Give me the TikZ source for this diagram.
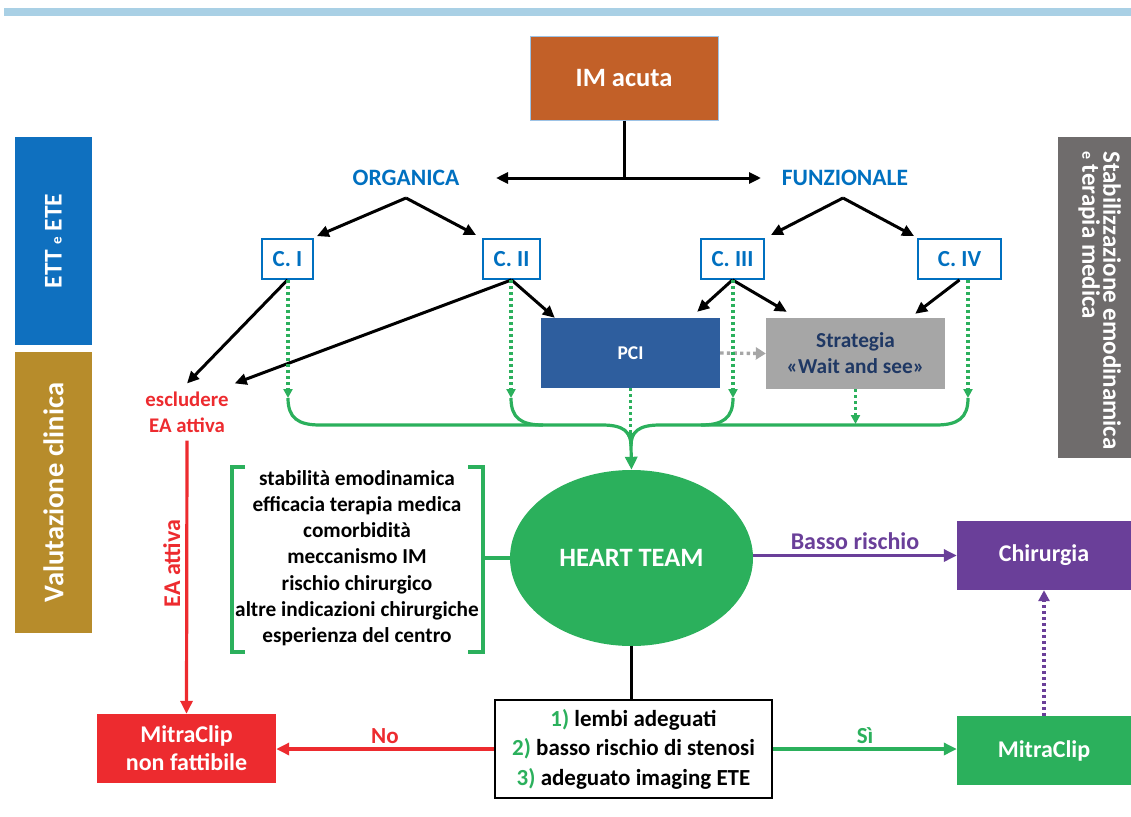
\documentclass[tikz,border=0pt]{standalone}
\usepackage{fontspec}
\setmainfont{Carlito}
\usetikzlibrary{arrows.meta,shapes.geometric}
\definecolor{topbar}{HTML}{A9D0E5}
\definecolor{imc}{HTML}{C26028}
\definecolor{lb}{HTML}{9DC3E6}
\definecolor{bl}{HTML}{0070C0}
\definecolor{ettc}{HTML}{0F70BF}
\definecolor{valc}{HTML}{B78C2B}
\definecolor{stabc}{HTML}{6F6C6C}
\definecolor{pcic}{HTML}{2E5E9E}
\definecolor{strc}{HTML}{A6A6A6}
\definecolor{navy}{HTML}{1F3864}
\definecolor{gr}{HTML}{2BB05C}
\definecolor{rd}{HTML}{ED2B2F}
\definecolor{pu}{HTML}{6A3F99}
\newcommand\fsz[2]{\fontsize{#1}{#2}\selectfont}
\begin{document}
\begin{tikzpicture}[x=1pt,y=-1pt,font=\bfseries,
  box/.style={rectangle,inner sep=0pt,align=center},
  cbox/.style={box,draw=bl,line width=1.8pt,fill=white,text=bl,minimum height=40pt,font=\bfseries\fsz{23}{26}},
  bluetxt/.style={text=bl,font=\bfseries\fsz{23.5}{26},inner sep=0pt},
  blk/.style={draw=black,line width=3pt},
  blkar/.style={blk,-{Triangle[length=12pt,width=11pt]}},
  gdot/.style={draw=gr,line width=3.2pt,dash pattern=on 3.2pt off 2.8pt,-{Triangle[length=9pt,width=9pt]}},
  gline/.style={draw=gr,line width=3.2pt},
  redar/.style={draw=rd,line width=3.2pt,-{Triangle[length=13pt,width=12pt]}},
  grar/.style={draw=gr,line width=3.2pt,-{Triangle[length=13pt,width=12pt]}},
  puar/.style={draw=pu,line width=3.2pt,-{Triangle[length=13pt,width=12pt]}},
  pudot/.style={draw=pu,line width=3.2pt,dash pattern=on 3.2pt off 2.8pt,-{Triangle[length=11pt,width=11pt]}},
  graydot/.style={draw=strc,line width=3.4pt,dash pattern=on 3.4pt off 3.2pt,-{Triangle[length=10pt,width=12pt]}},
  lbl/.style={inner sep=0pt,font=\bfseries\fsz{23}{26}}
]
\useasboundingbox (0,0) rectangle (1131,816);
\fill[topbar] (4,8) rectangle (1131,16);

% side bars
\node[box,rotate=90,fill=ettc,text=white,minimum width=208pt,minimum height=77pt,font=\bfseries\fsz{25.5}{28}] (ett) at (53.5,241) {ETT {\fsz{15}{18}e} ETE};
\node[box,rotate=90,fill=valc,text=white,minimum width=281pt,minimum height=77pt,font=\bfseries\fsz{28.5}{30}] (val) at (53.5,492.5) {Valutazione clinica};
\node[box,fill=stabc,minimum width=73pt,minimum height=321pt] (stab) at (1094.5,297.5) {};
\node[box,rotate=-90,anchor=north west,text=white,align=left,font=\bfseries\fsz{25}{21}] (stabt) at (1121,151) {Stabilizzazione emodinamica\\{\fsz{16}{21}e} terapia medica};

% top
\node[box,fill=imc,draw=lb,line width=1pt,minimum width=188pt,minimum height=83pt,text=white,font=\bfseries\fsz{26.5}{30}] (im) at (624,78.5) {IM acuta};
\node[bluetxt] (org) at (406,178) {ORGANICA};
\node[bluetxt] (fun) at (845,178) {FUNZIONALE};
\coordinate (split) at (624,178);
\coordinate (la) at (496,178);
\coordinate (ra) at (761,178);
\coordinate (oa) at (406,198);
\coordinate (fa) at (843,198);
\draw[blk] (im.south) -- (split);
\draw[blk,{Triangle[length=12pt,width=11pt]}-{Triangle[length=12pt,width=11pt]}] (la) -- (ra);

% C boxes
\node[cbox,minimum width=51pt] (c1) at (287.5,259) {C. I};
\node[cbox,minimum width=57pt] (c2) at (511.5,259) {C. II};
\node[cbox,minimum width=63pt] (c3) at (732.5,259) {C. III};
\node[cbox,minimum width=83pt] (c4) at (959.5,259) {C. IV};
\draw[blkar] (oa) -- ([xshift=3pt,yshift=2pt]c1.north east);
\draw[blkar] (oa) -- ([xshift=-6pt,yshift=3pt]c2.north west);
\draw[blkar] (fa) -- ([xshift=6pt,yshift=3pt]c3.north east);
\draw[blkar] (fa) -- ([xshift=-3pt,yshift=2pt]c4.north west);

% PCI / strategia
\node[box,fill=pcic,text=white,minimum width=179pt,minimum height=70pt,font=\bfseries\fsz{19.5}{24}] (pci) at (630.5,353) {PCI};
\node[box,fill=strc,text=navy,minimum width=179pt,minimum height=71pt,font=\bfseries\fsz{21.3}{26}] (str) at (855.5,353.5) {Strategia\\«Wait and see»};
\draw[graydot] (pci.east) -- (str.west);

% escludere
\node[box,inner sep=8pt,text=rd,font=\bfseries\fsz{20.8}{26}] (esc) at (187,412) {escludere\\EA attiva};
\draw[blkar] (c1.south) -- (esc.north);
\draw[blkar] (c2.south) -- ([xshift=-2pt]esc.north east);
\draw[blkar] (c2.south) -- ([xshift=14pt]pci.north west);
\draw[blkar] (c3.south) -- ([xshift=-23pt,yshift=6pt]pci.north east);
\draw[blkar] (c3.south) -- ([xshift=21pt,yshift=6pt]str.north west);
\draw[blkar] (c4.south) -- ([xshift=-30pt,yshift=4pt]str.north east);

% green brace
\coordinate (b1) at (288,398);
\coordinate (b2) at (511,398);
\coordinate (b3) at (733,398);
\coordinate (b4) at (968,398);
\coordinate (bc) at (631,446);
\coordinate (bs) at (855.5,424);
\coordinate (bp) at (630.5,442);
\draw[gdot] ([xshift=0.5pt]c1.south) -- (b1);
\draw[gdot] ([xshift=-0.5pt]c2.south) -- (b2);
\draw[gdot] ([xshift=0.5pt]c3.south) -- (b3);
\draw[gdot] ([xshift=8.5pt]c4.south) -- (b4);
\draw[gdot] (pci.south) -- (bp);
\draw[gdot] (str.south) -- (bs);
\draw[gline] (b1) .. controls (288,418) and (298,425) .. (320,425) -- (602,425) .. controls (624,425) and (631,432) .. (bc);
\draw[gline] (b4) .. controls (968,418) and (958,425) .. (936,425) -- (660,425) .. controls (638,425) and (631,432) .. (bc);
\draw[gline] (b2) .. controls (511,418) and (521,425) .. (543,425);
\draw[gline] (b3) .. controls (733,418) and (723,425) .. (701,425);

% heart team
\node[ellipse,fill=gr,inner sep=0pt,minimum width=243pt,minimum height=176pt,text=white,font=\bfseries\fsz{26.5}{30}] (ht) at (631.5,558) {HEART TEAM};
\draw[grar] (bc) -- (ht.north);

% criteria
\node[box,font=\bfseries\fsz{21.3}{26.2}] (crit) at (357,558) {stabilità emodinamica\\efficacia terapia medica\\comorbidità\\meccanismo IM\\rischio chirurgico\\altre indicazioni chirurgiche\\esperienza del centro};
\coordinate (bt) at (483,558);
\draw[gline] (245,467) -- (232,467) -- (232,652) -- (245,652);
\draw[gline] (468,467) -- (483,467) -- (483,652) -- (468,652);
\draw[gline] (bt) -- (ht.west);

% right column
\node[box,fill=pu,text=white,minimum width=174pt,minimum height=69pt,font=\bfseries\fsz{24}{28}] (chir) at (1044,555.5) {Chirurgia};
\node[box,fill=gr,text=white,minimum width=174pt,minimum height=69pt,font=\bfseries\fsz{24}{28}] (mc) at (1044,750.5) {MitraClip};
\draw[puar] (ht.east |- chir.west) -- node[lbl,text=pu,font=\bfseries\fsz{24}{26},above=4pt] {Basso rischio} (chir.west);
\draw[pudot] (mc.north) -- (chir.south);

% bottom
\node[box,draw=black,line width=2.8pt,fill=white,minimum width=277pt,minimum height=98pt,font=\bfseries\fsz{23}{29.5}] (q) at (633.5,749) {{\color{gr}1)} lembi adeguati\\{\color{gr}2)} basso rischio di stenosi\\{\color{gr}3)} adeguato imaging ETE};
\draw[blk] (ht.south) -- (ht.south |- q.north);
\node[box,fill=rd,text=white,minimum width=179pt,minimum height=69pt,font=\bfseries\fsz{24}{28}] (nf) at (186.5,748.5) {MitraClip\\non fattibile};
\draw[redar] (q.west) -- node[lbl,text=rd,above=4pt] {No} (q.west -| nf.east);
\draw[grar] (q.east) -- node[lbl,text=gr,above=4pt] {Sì} (q.east -| mc.west);
\draw[redar] (esc.south) -- node[lbl,text=rd,font=\bfseries\fsz{24}{26},rotate=90,above=5pt,pos=0.45] {EA attiva} (nf.north);
\end{tikzpicture}
\end{document}
